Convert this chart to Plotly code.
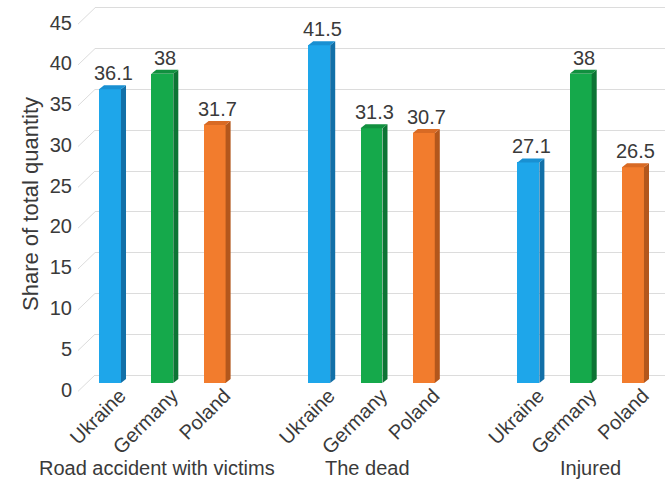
import plotly.graph_objects as go

# Data
groups = ["Road accident with victims", "The dead", "Injured"]
countries = ["Ukraine", "Germany", "Poland"]
ukraine = [36.1, 41.5, 27.1]
germany = [38.0, 31.3, 38.0]
poland = [31.7, 30.7, 26.5]
y_ticks = [0, 5, 10, 15, 20, 25, 30, 35, 40, 45]

series = {"Ukraine": ukraine, "Germany": germany, "Poland": poland}

# Styling
FONT = "Liberation Sans, Arial, Helvetica, sans-serif"
TEXT = "#3a3a3a"
GRID = "#dcdcdc"
front = {"Ukraine": "#1ea6ea", "Germany": "#15a94b", "Poland": "#f27c2d"}
side = {"Ukraine": "#1270a8", "Germany": "#0c7434", "Poland": "#b3571c"}
top = {"Ukraine": "#1990d2", "Germany": "#11903f", "Poland": "#d86a24"}

BAR_W = 0.42      # front face width (category units)
DX = 0.096        # depth offset, x
DY = 0.49         # depth offset, y
SLOT = 4          # 3 bars + 1 empty slot per group

X_RANGE = [-0.287, 10.612]
LABEL_SHIFT = 0.19
GROUP_XSHIFT = [-5, -4, 10]

fig = go.Figure()

positions, names = [], []
for g in range(len(groups)):
    for i, c in enumerate(countries):
        positions.append(g * SLOT + i)
        names.append(c)

for i, c in enumerate(countries):
    xs = [g * SLOT + i for g in range(len(groups))]
    vals = series[c]
    fig.add_trace(go.Bar(x=xs, y=vals, width=BAR_W, marker=dict(color=front[c], line=dict(width=0)),
                         name=c, showlegend=False, hoverinfo="skip"))
    sx, sy, tx, ty = [], [], [], []
    for x, v in zip(xs, vals):
        l, r = x - BAR_W / 2, x + BAR_W / 2
        sx += [r, r + DX, r + DX, r, r, None]
        sy += [0, DY, v + DY, v, 0, None]
        tx += [l, r, r + DX, l + DX, l, None]
        ty += [v, v, v + DY, v + DY, v, None]
    fig.add_trace(go.Scatter(x=sx, y=sy, mode="lines", fill="toself", fillcolor=side[c],
                             line=dict(width=0), showlegend=False, hoverinfo="skip"))
    fig.add_trace(go.Scatter(x=tx, y=ty, mode="lines", fill="toself", fillcolor=top[c],
                             line=dict(width=0), showlegend=False, hoverinfo="skip"))
    for x, v in zip(xs, vals):
        fig.add_annotation(x=x, y=v, xref="x", yref="y", text=f"{v:g}", showarrow=False,
                           yanchor="middle", yshift=16, xshift=3,
                           font=dict(family=FONT, size=20, color=TEXT))

# carrier traces for the overlay axes
fig.add_trace(go.Scatter(x=[], y=[], xaxis="x2", yaxis="y2", showlegend=False))
fig.add_trace(go.Scatter(x=[], y=[], xaxis="x2", yaxis="y3", showlegend=False))

# floor-to-wall diagonals of the gridlines
for t in y_ticks:
    fig.add_shape(type="line", xref="paper", yref="y2", x0=-0.0298, y0=t - 2.0, x1=0, y1=t,
                  line=dict(color=GRID, width=1))

for g, name in enumerate(groups):
    fig.add_annotation(x=g * SLOT + 1, y=-0.194, xref="x", yref="paper", text=name,
                       showarrow=False, yanchor="middle", xshift=GROUP_XSHIFT[g],
                       font=dict(family=FONT, size=20, color=TEXT))

fig.add_annotation(x=-0.1386, y=0.481, xref="paper", yref="paper", text="Share of total quantity",
                   textangle=-90, showarrow=False, font=dict(family=FONT, size=22, color=TEXT))

fig.update_layout(
    width=665, height=481,
    margin=dict(l=95, r=0, t=0, b=89),
    paper_bgcolor="white", plot_bgcolor="white",
    bargap=0,
    xaxis=dict(range=X_RANGE, showticklabels=False, showgrid=False, zeroline=False,
               showline=False, ticks=""),
    xaxis2=dict(overlaying="x", anchor="y", range=[X_RANGE[0] - LABEL_SHIFT, X_RANGE[1] - LABEL_SHIFT],
                tickmode="array", tickvals=positions, ticktext=names, tickangle=-45,
                showgrid=False, zeroline=False, showline=False, ticks="", ticklabelstandoff=-13,
                tickfont=dict(family=FONT, size=20, color=TEXT)),
    yaxis=dict(range=[-1.106, 47.05], showticklabels=False, showgrid=False, zeroline=False,
               showline=False, ticks=""),
    yaxis2=dict(overlaying="y", anchor="x", range=[-2.08, 45.96], tickmode="array", tickvals=y_ticks,
                showticklabels=False, showgrid=True, gridcolor=GRID, gridwidth=1,
                zeroline=False, showline=False, ticks=""),
    yaxis3=dict(overlaying="y", anchor="x", range=[-0.307, 47.79], tickmode="array", tickvals=y_ticks,
                showgrid=False, zeroline=False, showline=False, ticks="", ticklabelstandoff=22,
                tickfont=dict(family=FONT, size=20, color=TEXT)),
)

fig.write_html("out.html")
